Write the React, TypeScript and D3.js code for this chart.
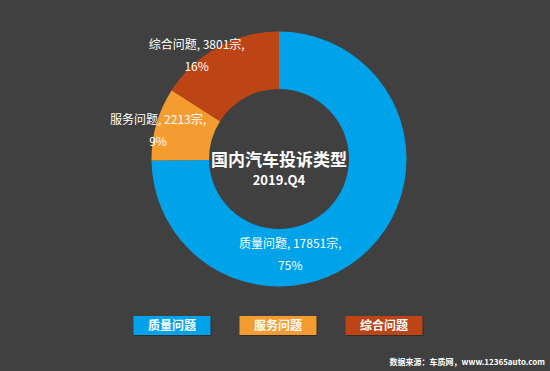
import React from 'react';
import * as d3 from 'd3';

const categories = ['质量问题', '服务问题', '综合问题'];
const counts = [17851, 2213, 3801];
const percents = ['75%', '9%', '16%'];
const colors = ['#00a2e9', '#f59c30', '#bd4414'];

const title = '国内汽车投诉类型';
const subtitle = '2019.Q4';
const source = '数据来源：车质网，www.12365auto.com';

const width = 550;
const height = 371;

const App: React.FC = () => {
  const cx = 279;
  const cy = 159;
  const outer = 127.5;
  const inner = 70;

  const pie = d3.pie<number>().sort(null).value(d => d);
  const arcs = pie(counts);
  const arc = d3.arc<d3.PieArcDatum<number>>().innerRadius(inner).outerRadius(outer);

  // hand-tuned nudges from the slice centroid, like the original label drag
  const labelNudge = [
    [-59, 26],
    [-26, -1],
    [-35, -17],
  ];

  const legendX = d3
    .scalePoint<string>()
    .domain(categories)
    .range([172, 384]);
  const boxW = 77;
  const boxH = 19;
  const legendY = 316;

  const font = '"Noto Sans CJK SC", "Noto Sans", sans-serif';

  return (
    <svg
      width={width}
      height={height}
      viewBox={`0 0 ${width} ${height}`}
      style={{ position: 'absolute', left: 0, top: 0, fontFamily: font }}
    >
      <rect width={width} height={height} fill="#404040" />
      <g transform={`translate(${cx},${cy})`}>
        {arcs.map((a, i) => (
          <path key={i} d={arc(a) || ''} fill={colors[i]} />
        ))}
        {arcs.map((a, i) => {
          const [x, y] = arc.centroid(a);
          const lx = x + labelNudge[i][0];
          const ly = y + labelNudge[i][1];
          return (
            <g key={'l' + i} fill="#ffffff" fontSize={12} textAnchor="middle">
              <text x={lx} y={ly - 11} dy="0.35em">
                {`${categories[i]}, ${counts[i]}宗,`}
              </text>
              <text x={lx} y={ly + 11} dy="0.35em">
                {percents[i]}
              </text>
            </g>
          );
        })}
        <text x={0} y={1} dy="0.35em" fill="#ffffff" fontSize={17} fontWeight="bold" textAnchor="middle">
          {title}
        </text>
        <text x={0} y={21} dy="0.35em" fill="#ffffff" fontSize={13} fontWeight="bold" textAnchor="middle">
          {subtitle}
        </text>
      </g>
      <g>
        {categories.map((c, i) => {
          const x = legendX(c) as number;
          return (
            <g key={c}>
              <rect x={x - boxW / 2 + 1} y={legendY + 1} width={boxW} height={boxH} fill="#2e2e2e" />
              <rect x={x - boxW / 2} y={legendY} width={boxW} height={boxH} fill={colors[i]} />
              <text
                x={x}
                y={legendY + boxH / 2}
                dy="0.35em"
                fill="#ffffff"
                fontSize={12}
                fontWeight="bold"
                textAnchor="middle"
              >
                {c}
              </text>
            </g>
          );
        })}
      </g>
      <text
        x={545}
        y={362}
        dy="0.35em"
        fill="#ffffff"
        fontSize={8}
        fontWeight="bold"
        textAnchor="end"
      >
        {source}
      </text>
    </svg>
  );
};

export default App;
